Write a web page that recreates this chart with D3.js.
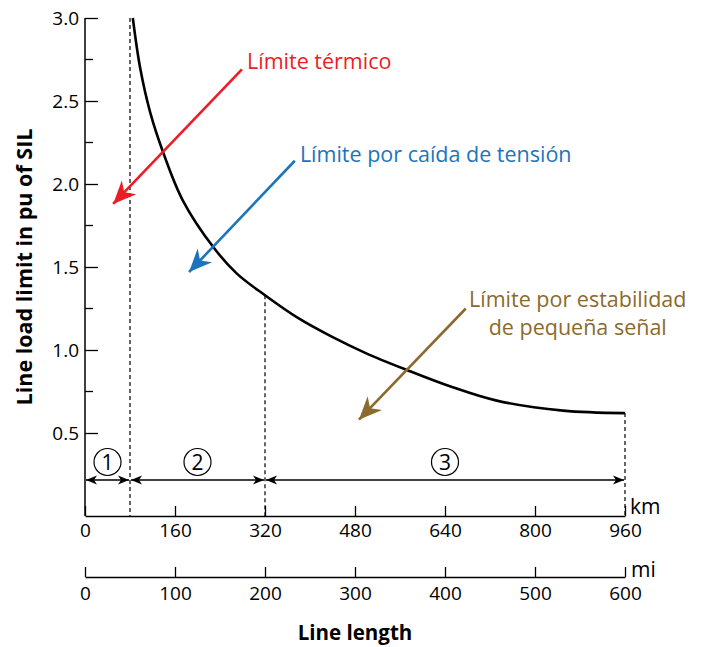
<!DOCTYPE html>
<html>
<head>
<meta charset="utf-8">
<script src="https://cdn.jsdelivr.net/npm/d3@7"></script>
<style>
  body { margin: 0; background: #fff; }
  text { font-family: "Open Sans", Lato, sans-serif; }
</style>
</head>
<body>
<div id="chart"></div>
<script>
// line length (km) and loadability (pu of SIL)
const distanceKm = [85, 98, 116, 139, 174, 228, 270, 320, 380, 436, 500, 572, 650, 732, 850, 960];
const loadPu     = [3.0, 2.70, 2.43, 2.19, 1.90, 1.62, 1.46, 1.33, 1.19, 1.085, 0.98, 0.88, 0.78, 0.695, 0.635, 0.62];

const kmTicks = [0, 160, 320, 480, 640, 800, 960];
const miTicks = [0, 100, 200, 300, 400, 500, 600];
const yMajor = [0.5, 1.0, 1.5, 2.0, 2.5, 3.0];
const yMinor = [0.75, 1.25, 1.75, 2.25, 2.75];

const regionKm = [0, 80, 320, 960];
const regionNames = ["1", "2", "3"];

const notes = [
  { lines: ["Límite térmico"], color: "#ed1c24", tx: 288, ty: 2.69, anchor: "start", from: [279, 2.69], to: [50, 1.88] },
  { lines: ["Límite por caída de tensión"], color: "#1b75bc", tx: 382, ty: 2.13, anchor: "start", from: [373, 2.14], to: [185, 1.47] },
  { lines: ["Límite por estabilidad", "de pequeña señal"], color: "#8b6a2e", tx: 876, ty: 1.26, anchor: "middle", from: [677, 1.25], to: [487, 0.58] }
];

const W = 703, H = 647;
const svg = d3.select("#chart").append("svg")
  .attr("width", W).attr("height", H);

const x = d3.scaleLinear().domain([0, 960]).range([85, 625]);
const xMi = d3.scaleLinear().domain([0, 600]).range([85, 625]);
const y = d3.scaleLinear().domain([0, 3]).range([516, 18]);

// markers
const defs = svg.append("defs");
defs.append("marker")
  .attr("id", "dim").attr("markerUnits", "userSpaceOnUse")
  .attr("viewBox", "-12 -6 14 12").attr("refX", 0).attr("refY", 0)
  .attr("markerWidth", 14).attr("markerHeight", 12)
  .attr("orient", "auto-start-reverse")
  .append("path").attr("d", "M0,0 L-11,-4.5 L-8,0 L-11,4.5 Z").attr("fill", "#000");

notes.forEach((n, i) => {
  defs.append("marker")
    .attr("id", "note" + i).attr("markerUnits", "userSpaceOnUse")
    .attr("viewBox", "-24 -11 26 22").attr("refX", 0).attr("refY", 0)
    .attr("markerWidth", 26).attr("markerHeight", 22)
    .attr("orient", "auto")
    .append("path").attr("d", "M0,0 L-23,-10 L-16,0 L-23,10 Z").attr("fill", n.color);
});

// y axis
const yAxis = d3.axisRight(y).tickValues(yMajor).tickSize(13).tickFormat(d3.format(".1f"));
const gy = svg.append("g").attr("transform", "translate(85,0)").call(yAxis);
gy.select(".domain").remove();
gy.selectAll(".tick text").attr("x", -6).attr("text-anchor", "end").attr("dy", "0.35em")
  .style("font-size", "19px");
gy.selectAll(".tick line").attr("stroke-width", 1.3);
svg.append("g").selectAll("line").data(yMinor).join("line")
  .attr("x1", 85).attr("x2", 93).attr("y1", d => y(d)).attr("y2", d => y(d))
  .attr("stroke", "#000").attr("stroke-width", 1.3);
svg.append("line").attr("x1", 85).attr("x2", 85).attr("y1", y(3)).attr("y2", y(0))
  .attr("stroke", "#000").attr("stroke-width", 1.5);

// km axis
const kmAxis = d3.axisTop(x).tickValues(kmTicks).tickSize(10).tickSizeOuter(0);
const gk = svg.append("g").attr("transform", `translate(0,${y(0)})`).call(kmAxis);
gk.select(".domain").attr("stroke-width", 1.5);
gk.selectAll(".tick line").attr("stroke-width", 1.3);
gk.selectAll(".tick text").attr("y", 21).attr("dy", 0).style("font-size", "19px");
svg.append("text").attr("x", x(960) + 5).attr("y", y(0) - 2).text("km").style("font-size", "21px");

// mi axis
const miY = 577;
const miAxis = d3.axisTop(xMi).tickValues(miTicks).tickSize(10).tickSizeOuter(0);
const gm = svg.append("g").attr("transform", `translate(0,${miY})`).call(miAxis);
gm.select(".domain").attr("stroke-width", 1.5);
gm.selectAll(".tick line").attr("stroke-width", 1.3);
gm.selectAll(".tick text").attr("y", 23).attr("dy", 0).style("font-size", "19px");
svg.append("text").attr("x", xMi(600) + 6).attr("y", miY).text("mi").style("font-size", "21px");

// axis titles
svg.append("text").attr("x", (x(0) + x(960)) / 2).attr("y", 640).attr("text-anchor", "middle")
  .style("font-size", "20.5px").style("font-weight", "bold").text("Line length");
svg.append("text").attr("transform", `translate(32,${y(1.5)}) rotate(-90)`).attr("text-anchor", "middle")
  .style("font-size", "21.5px").style("font-weight", "bold").text("Line load limit in pu of SIL");

// dashed region boundaries
const curveAt = km => loadPu[distanceKm.indexOf(km)];
const bounds = [
  { km: 80, top: 3.0 },
  { km: 320, top: curveAt(320) },
  { km: 960, top: curveAt(960) }
];
svg.append("g").selectAll("line").data(bounds).join("line")
  .attr("x1", d => x(d.km)).attr("x2", d => x(d.km))
  .attr("y1", d => y(d.top)).attr("y2", y(0))
  .attr("stroke", "#000").attr("stroke-width", 1.2).attr("stroke-dasharray", "4,3");

// curve
const line = d3.line().x(d => x(d)).y((d, i) => y(loadPu[i])).curve(d3.curveCatmullRom.alpha(0.5));
svg.append("path").datum(distanceKm).attr("d", line)
  .attr("fill", "none").attr("stroke", "#000").attr("stroke-width", 2.6);

// region dimension arrows
const dimY = 480;
const regions = regionNames.map((name, i) => ({ name, a: regionKm[i], b: regionKm[i + 1] }));
const gr = svg.append("g");
gr.selectAll("line").data(regions).join("line")
  .attr("x1", d => x(d.a) + 1).attr("x2", d => x(d.b) - 1)
  .attr("y1", dimY).attr("y2", dimY)
  .attr("stroke", "#000").attr("stroke-width", 1.3)
  .attr("marker-start", "url(#dim)").attr("marker-end", "url(#dim)");
gr.selectAll("circle").data(regions).join("circle")
  .attr("cx", d => (x(d.a) + x(d.b)) / 2).attr("cy", 462).attr("r", 13.5)
  .attr("fill", "none").attr("stroke", "#000").attr("stroke-width", 1.2);
gr.selectAll("text").data(regions).join("text")
  .attr("x", d => (x(d.a) + x(d.b)) / 2).attr("y", 462).attr("dy", "0.36em")
  .attr("text-anchor", "middle").style("font-size", "21px").text(d => d.name);

// annotations
notes.forEach((n, i) => {
  const t = svg.append("text").attr("x", x(n.tx)).attr("y", y(n.ty))
    .attr("text-anchor", n.anchor).attr("fill", n.color).style("font-size", "21.5px");
  n.lines.forEach((s, j) => t.append("tspan").attr("x", x(n.tx)).attr("dy", j ? 28 : 0).text(s));
  svg.append("line")
    .attr("x1", x(n.from[0])).attr("y1", y(n.from[1]))
    .attr("x2", x(n.to[0])).attr("y2", y(n.to[1]))
    .attr("stroke", n.color).attr("stroke-width", 2.6)
    .attr("marker-end", `url(#note${i})`);
});
</script>
</body>
</html>
